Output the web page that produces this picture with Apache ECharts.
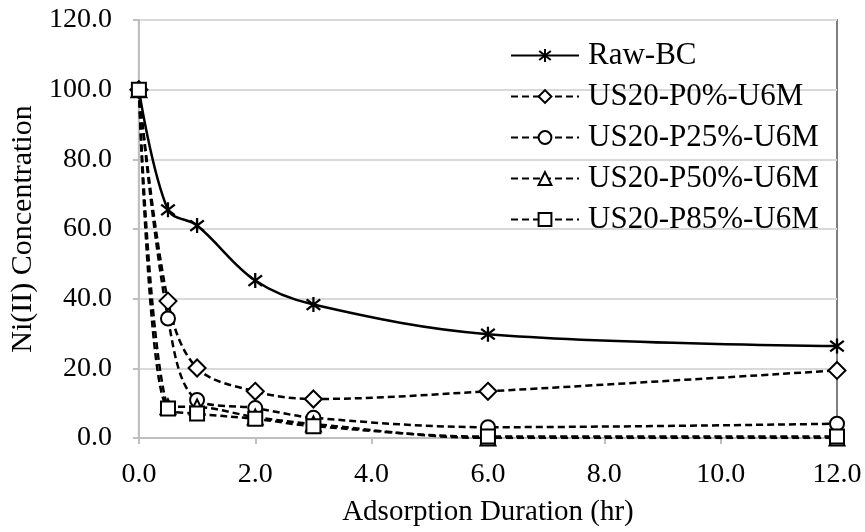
<!DOCTYPE html>
<html>
<head>
<meta charset="utf-8">
<script src="https://cdn.jsdelivr.net/npm/echarts@6/dist/echarts.min.js"></script>
<style>
  html, body { margin: 0; padding: 0; background: #fff; }
  #chart { width: 865px; height: 532px; }
</style>
</head>
<body>
<div id="chart"></div>
<script>
// Sampling times (hr) and Ni(II) concentration for each biochar
const hours = [0, 0.5, 1, 2, 3, 6, 12];
const rawBC = [100, 65.5, 61, 45.2, 38.3, 29.8, 26.4];
const p0 = [100, 39.3, 20.1, 13.4, 11.2, 13.4, 19.4];
const p25 = [100, 34.3, 10.9, 8.6, 5.8, 3.1, 4.1];
const p50 = [100, 9.0, 8.9, 6.0, 4.0, 0.0, 0.0];
const p85 = [100, 8.5, 7.0, 5.5, 3.4, 0.4, 0.4];
const seriesNames = ['Raw-BC', 'US20-P0%-U6M', 'US20-P25%-U6M', 'US20-P50%-U6M', 'US20-P85%-U6M'];
const xTicks = [0, 2, 4, 6, 8, 10, 12];
const yTicks = [0, 20, 40, 60, 80, 100, 120];

const FONT = '"Times New Roman", "Liberation Serif", serif';

// six-armed asterisk marker built from three bars
const asterisk = 'path://M8.5,0L11.5,0L11.5,20L8.5,20Z' +
  'M1.92,1.82L19.92,15.82L18.08,18.18L0.08,4.18Z' +
  'M0.08,15.82L18.08,1.82L19.92,4.18L1.92,18.18Z';

function pairs(vals) {
  return hours.map((h, i) => [h, vals[i]]);
}

function makeSeries(name, vals, symbol, size, dashed) {
  return {
    name: name,
    type: 'line',
    smooth: 0.35,
    data: pairs(vals),
    symbol: symbol,
    symbolSize: size,
    showAllSymbol: true,
    lineStyle: { color: '#000', width: 2.5, type: dashed ? [7, 4] : 'solid' },
    itemStyle: symbol === asterisk
      ? { color: '#000', borderWidth: 0 }
      : { color: '#000', borderColor: '#000', borderWidth: 2.5 },
    emphasis: { disabled: true }
  };
}

const chart = echarts.init(document.getElementById('chart'), null, { renderer: 'canvas' });

chart.setOption({
  animation: false,
  backgroundColor: '#fff',
  textStyle: { fontFamily: FONT, color: '#000' },
  grid: {
    left: 138, right: 28, top: 20, bottom: 89,
    show: true, borderColor: '#7f7f7f', borderWidth: 2, backgroundColor: '#fff'
  },
  legend: {
    data: seriesNames,
    orient: 'vertical',
    left: 505,
    top: 35,
    itemWidth: 68,
    itemHeight: 16,
    itemGap: 10,
    textStyle: { fontFamily: FONT, fontSize: 31, color: '#000', lineHeight: 29, padding: [0, 0, 0, 4] }
  },
  xAxis: {
    type: 'value',
    min: xTicks[0],
    max: xTicks[xTicks.length - 1],
    interval: xTicks[1] - xTicks[0],
    name: 'Adsorption Duration (hr)',
    nameLocation: 'middle',
    nameGap: 60,
    nameTextStyle: { fontFamily: FONT, fontSize: 29, color: '#000' },
    axisLine: { show: true, lineStyle: { color: '#bfbfbf', width: 2 } },
    axisTick: { show: true, inside: false, length: 6, lineStyle: { color: '#bfbfbf', width: 2 } },
    axisLabel: {
      fontFamily: FONT, fontSize: 28, color: '#000', margin: 23,
      formatter: v => v.toFixed(1)
    },
    splitLine: { show: false }
  },
  yAxis: {
    type: 'value',
    min: yTicks[0],
    max: yTicks[yTicks.length - 1],
    interval: yTicks[1] - yTicks[0],
    name: 'Ni(II) Concentration',
    nameLocation: 'middle',
    nameGap: 96,
    nameTextStyle: { fontFamily: FONT, fontSize: 30, color: '#000' },
    axisLine: { show: true, lineStyle: { color: '#bfbfbf', width: 2 } },
    axisTick: { show: true, inside: false, length: 6, lineStyle: { color: '#bfbfbf', width: 2 } },
    axisLabel: {
      fontFamily: FONT, fontSize: 28, color: '#000', margin: 27,
      formatter: v => v.toFixed(1)
    },
    splitLine: { show: true, lineStyle: { color: '#d9d9d9', width: 2 } }
  },
  series: [
    makeSeries(seriesNames[0], rawBC, asterisk, 15, false),
    makeSeries(seriesNames[1], p0, 'emptyDiamond', 17, true),
    makeSeries(seriesNames[2], p25, 'emptyCircle', 14, true),
    makeSeries(seriesNames[3], p50, 'emptyTriangle', 15, true),
    makeSeries(seriesNames[4], p85, 'emptyRect', 14, true)
  ]
});
</script>
</body>
</html>
